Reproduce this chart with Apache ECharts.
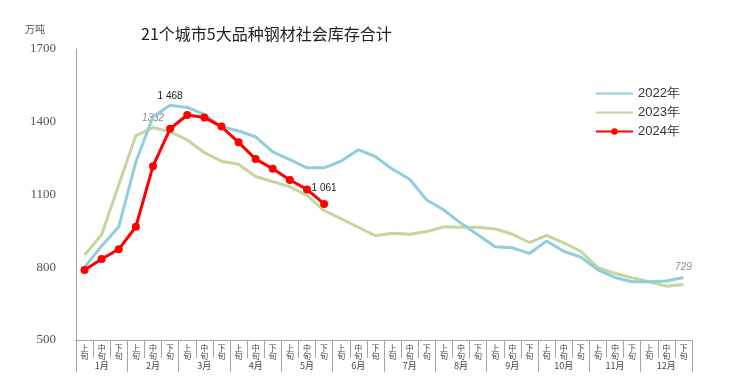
<!DOCTYPE html>
<html><head><meta charset="utf-8">
<script src="https://cdn.jsdelivr.net/npm/echarts@6/dist/echarts.min.js"></script>
<style>html,body{margin:0;padding:0;background:#fff}#c{width:738px;height:387px}</style>
</head><body><div id="c"></div>
<script>
const months = ['1月','2月','3月','4月','5月','6月','7月','8月','9月','10月','11月','12月'];
const xuns = ['上旬','中旬','下旬'];
const categories = [];
months.forEach(m => xuns.forEach(x => categories.push(m + x)));
const yTicks = [500, 800, 1100, 1400, 1700];
const s2022 = [800, 888, 967, 1235, 1421, 1468, 1459, 1430, 1380, 1362, 1338, 1276,
  1244, 1210, 1210, 1238, 1285, 1256, 1204, 1163, 1077, 1036, 981, 933,
  885, 880, 857, 908, 866, 842, 789, 758, 740, 740, 743, 758];
const s2023 = [850, 935, 1140, 1343, 1376, 1359, 1325, 1273, 1237, 1225, 1174, 1153,
  1132, 1096, 1034, 1000, 965, 930, 940, 936, 947, 967, 965, 965,
  958, 936, 902, 931, 901, 866, 798, 775, 757, 740, 722, 729];
const s2024 = [789, 834, 874, 967, 1217, 1371, 1428, 1418, 1380, 1315, 1246, 1206, 1160, 1121, 1061];

const chart = echarts.init(document.getElementById('c'), null, {renderer: 'canvas'});
const lblFont = 'Liberation Sans';
const d2022 = s2022.map((v, i) => i === 5 ? {value: v, label: {show: true, position: 'top', distance: 4, formatter: '1 468', color: '#222', fontSize: 10, fontFamily: lblFont}} : v);
const d2023 = s2023.map((v, i) => {
  if (i === 4) return {value: v, label: {show: true, position: 'top', distance: 4, formatter: '1332', color: '#8a8a8a', fontStyle: 'italic', fontSize: 10, fontFamily: lblFont}};
  if (i === 35) return {value: v, label: {show: true, position: 'top', distance: 12, formatter: '729', color: '#8a8a8a', fontStyle: 'italic', fontSize: 10, fontFamily: lblFont}};
  return v;
});
const d2024 = s2024.map((v, i) => i === s2024.length - 1 ? {value: v, label: {show: true, position: 'top', distance: 7, formatter: '1 061', color: '#222', fontSize: 10, fontFamily: lblFont}} : v);

chart.setOption({
  animation: false,
  backgroundColor: '#fff',
  title: {
    text: '21个城市5大品种钢材社会库存合计',
    left: 136, top: 21,
    textStyle: {fontFamily: 'Noto Sans CJK SC', fontSize: 16, fontWeight: 'normal', color: '#222'}
  },
  graphic: [{
    type: 'text', left: 25, top: 24,
    style: {text: '万吨', fontSize: 10, fill: '#595959', fontFamily: 'Noto Sans CJK SC'}
  }],
  legend: {
    orient: 'vertical', left: 590, top: 82, itemWidth: 37, itemHeight: 8, itemGap: 6,
    textStyle: {fontSize: 13, color: '#333', fontFamily: 'Liberation Sans'},
    data: [{name: '2022年', itemStyle: {opacity: 0}}, {name: '2023年', itemStyle: {opacity: 0}}, {name: '2024年'}]
  },
  grid: {left: 76, right: 46, top: 49, bottom: 47},
  xAxis: [{
    type: 'category', data: categories, boundaryGap: true, position: 'bottom',
    axisLine: {lineStyle: {color: '#a6a6a6', width: 1}},
    axisTick: {show: true, interval: 0, length: 18, lineStyle: {color: '#a6a6a6'}},
    axisLabel: {interval: 0, margin: 4, fontSize: 8, lineHeight: 8, color: '#444',
      fontFamily: 'Noto Sans CJK SC',
      formatter: v => v.slice(-2).split('').join('\n')}
  }, {
    type: 'category', data: months, boundaryGap: true, position: 'bottom',
    axisLine: {show: false},
    axisTick: {show: true, interval: 0, length: 32, lineStyle: {color: '#a6a6a6'}},
    axisLabel: {interval: 0, margin: 21, fontSize: 9, color: '#444', fontFamily: 'Noto Sans CJK SC'}
  }],
  yAxis: {
    type: 'value', min: yTicks[0], max: yTicks[yTicks.length - 1], interval: 300,
    axisLine: {show: true, lineStyle: {color: '#a6a6a6', width: 1}},
    axisTick: {show: false}, splitLine: {show: false},
    axisLabel: {margin: 20, fontSize: 13, color: '#555', fontFamily: 'Liberation Serif', formatter: v => String(v)}
  },
  series: [{
    name: '2022年', type: 'line', data: d2022, symbol: 'circle', symbolSize: 0, showSymbol: true, xAxisIndex: 0,
    lineStyle: {color: '#92cddc', width: 3}, itemStyle: {color: '#92cddc'}, z: 2
  }, {
    name: '2023年', type: 'line', data: d2023, symbol: 'circle', symbolSize: 0, showSymbol: true, xAxisIndex: 0,
    lineStyle: {color: '#c3d69b', width: 3}, itemStyle: {color: '#c3d69b'}, z: 1
  }, {
    name: '2024年', type: 'line', data: d2024, symbol: 'circle', symbolSize: 8, xAxisIndex: 0,
    lineStyle: {color: '#ff0000', width: 3}, itemStyle: {color: '#ff0000'}, z: 3
  }]
});
</script></body></html>
